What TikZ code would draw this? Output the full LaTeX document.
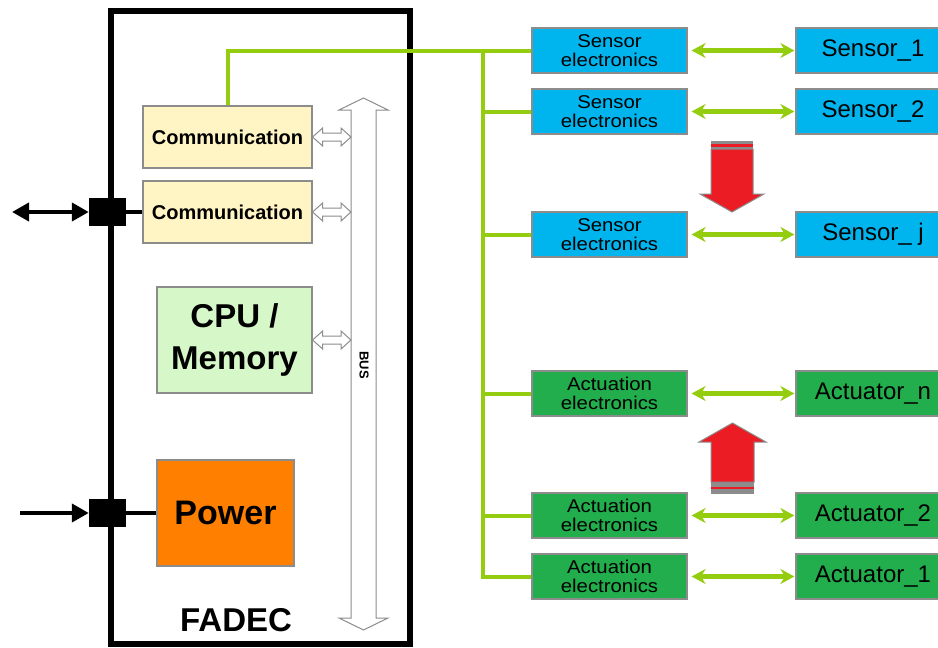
\documentclass[tikz,border=0pt]{standalone}
\usepackage{fontspec}
\setmainfont{Liberation Sans}
\usetikzlibrary{arrows.meta,calc}

\definecolor{sensorblue}{HTML}{00B4EE}
\definecolor{actgreen}{HTML}{22AE4C}
\definecolor{wiregreen}{HTML}{94CC0F}
\definecolor{commyellow}{HTML}{FFF5C4}
\definecolor{cpugreen}{HTML}{D6F7C8}
\definecolor{powerorange}{HTML}{FF8000}
\definecolor{arrowred}{HTML}{EC1C24}
\definecolor{boxline}{HTML}{8C8C8C}

% hollow double arrow from a box to the bus
\newcommand\busarrow[1]{%
  \draw[hollow] let \p1=(#1.east), \p2=(busl |- #1.east) in
    (\x1,\y1) -- (\x1+10pt,\y1+9pt) -- (\x1+10pt,\y1+4pt) -- (\x2-10pt,\y1+4pt)
    -- (\x2-10pt,\y1+9pt) -- (\x2,\y1) -- (\x2-10pt,\y1-9pt) -- (\x2-10pt,\y1-4pt)
    -- (\x1+10pt,\y1-4pt) -- (\x1+10pt,\y1-9pt) -- cycle;}

\begin{document}
\begin{tikzpicture}[x=1pt, y=-1pt,
    box/.style={draw=boxline, line width=1.2pt, inner sep=0pt, align=center},
    commbox/.style={box, fill=commyellow, minimum width=169, minimum height=62,
      font={\fontsize{20}{24}\selectfont\bfseries}},
    elecbox/.style={box, minimum width=155, minimum height=45,
      font={\fontsize{18.5}{19.5}\selectfont\addfontfeatures{FakeStretch=1.1}}},
    devbox/.style={box, minimum width=154, minimum height=45,
      font={\fontsize{24}{26}\selectfont}},
    port/.style={fill=black, minimum width=37, minimum height=28, inner sep=0pt},
    hollow/.style={draw=boxline, fill=white, line width=1pt, line join=miter},
    blackline/.style={line width=4pt},
    wire/.style={wiregreen, line width=4pt},
    link/.style={wiregreen, line width=4.5pt,
      {Stealth[length=14pt,width=15pt]}-{Stealth[length=14pt,width=15pt]},
      shorten <=4pt, shorten >=1pt},
    redarrow/.style={draw=boxline, fill=arrowred, line width=1pt}]
  \useasboundingbox (0,0) rectangle (938,648);

  % FADEC unit
  \node[draw, line width=6pt, minimum width=299, minimum height=633, inner sep=0pt] (fadec) at (260,327) {};
  \node[font={\fontsize{33}{36}\selectfont\bfseries}] (fadeclbl) at (236,620) {FADEC};

  \node[commbox] (com1) at (227.5,137) {Communication};
  \node[commbox] (com2) at (227.5,212) {Communication};
  \node[box, fill=cpugreen, minimum width=155, minimum height=106,
    font={\fontsize{33}{42}\selectfont\bfseries}] (cpu) at (234.5,340) {CPU /\\Memory};
  \node[box, fill=powerorange, minimum width=137, minimum height=106,
    font={\fontsize{34}{36}\selectfont\bfseries}] (power) at (225.5,513) {Power};

  % bus
  \draw[hollow] (363.5,98) -- (388,110) -- (376,110) -- (376,618) -- (388,618)
    -- (363.5,630) -- (339,618) -- (351,618) -- (351,110) -- (339,110) -- cycle;
  \coordinate (busl) at (351,0);
  \node[rotate=-90, font={\fontsize{13}{14}\selectfont\bfseries}] (buslbl) at (364,365) {BUS};
  \busarrow{com1}
  \busarrow{com2}
  \busarrow{cpu}

  % external ports
  \node[port] (port1) at (107.5,212) {};
  \node[port] (port2) at (107.5,513) {};
  \coordinate (ext1) at (12,212);
  \coordinate (ext2) at (20,513);
  \draw[blackline, {Triangle[length=17pt,width=18pt]}-{Triangle[length=17pt,width=18pt]}] (ext1) -- (port1);
  \draw[blackline] (port1) -- (com2);
  \draw[blackline, -{Triangle[length=17pt,width=18pt]}] (ext2) -- (port2);
  \draw[blackline] (port2) -- (power);

  % sensors and actuators
  \node[elecbox, fill=sensorblue] (se1) at (609.5,50.5) {Sensor\\electronics};
  \node[elecbox, fill=sensorblue] (se2) at (609.5,111.5) {Sensor\\electronics};
  \node[elecbox, fill=sensorblue] (sej) at (609.5,234.5) {Sensor\\electronics};
  \node[elecbox, fill=actgreen] (aen) at (609.5,393.5) {Actuation\\electronics};
  \node[elecbox, fill=actgreen] (ae2) at (609.5,515.5) {Actuation\\electronics};
  \node[elecbox, fill=actgreen] (ae1) at (609.5,576.5) {Actuation\\electronics};

  \node[devbox, fill=sensorblue] (s1) at (873,50.5) {Sensor\_1};
  \node[devbox, fill=sensorblue] (s2) at (873,111.5) {Sensor\_2};
  \node[devbox, fill=sensorblue] (sj) at (873,234.5) {Sensor\_ j};
  \node[devbox, fill=actgreen] (an) at (873,393.5) {Actuator\_n};
  \node[devbox, fill=actgreen] (a2) at (873,515.5) {Actuator\_2};
  \node[devbox, fill=actgreen] (a1) at (873,576.5) {Actuator\_1};

  % green wiring
  \draw[wire] (com1.north) |- (se1.west);
  \coordinate (trunk) at (483,50.5);
  \draw[wire] (trunk) |- (ae1.west);
  \foreach \n in {se2,sej,aen,ae2}
    \draw[wire] (trunk |- \n.west) -- (\n.west);
  \foreach \a/\b in {se1/s1,se2/s2,sej/sj,aen/an,ae2/a2,ae1/a1}
    \draw[link] (\a) -- (\b);

  % red arrows
  \fill[boxline] (711,141) rectangle (753,149);
  \fill[arrowred] (711,144) rectangle (753,146.5);
  \draw[redarrow] (711,149) -- (753,149) -- (753,194) -- (764,194) -- (732,212)
    -- (700,194) -- (711,194) -- cycle;
  \fill[boxline] (711,482) rectangle (754,494);
  \fill[arrowred] (711,486.5) rectangle (754,489);
  \draw[redarrow] (711,482) -- (754,482) -- (754,442) -- (766,442) -- (732.5,423)
    -- (699,442) -- (711,442) -- cycle;
\end{tikzpicture}
\end{document}
